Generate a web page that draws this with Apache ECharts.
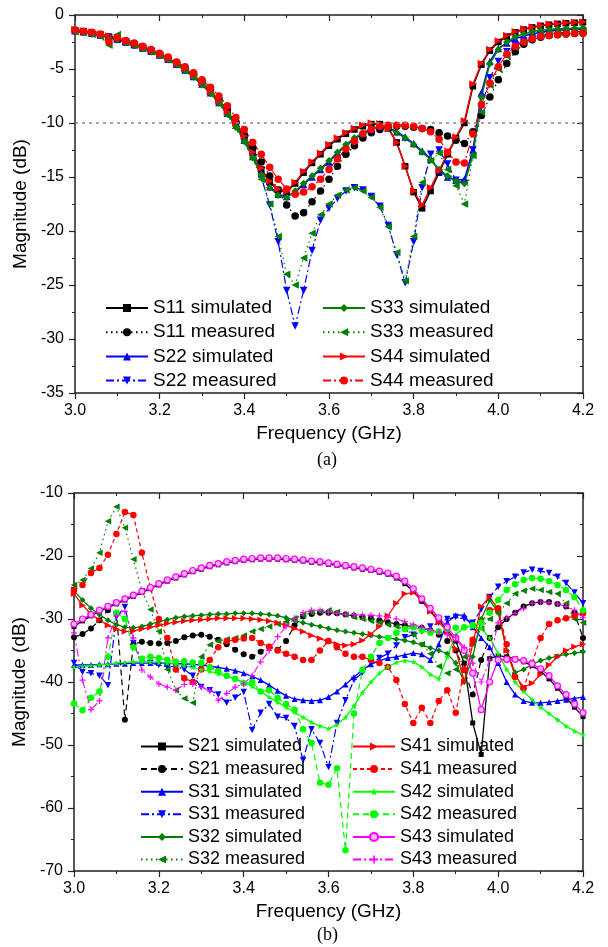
<!DOCTYPE html>
<html><head><meta charset="utf-8">
<script src="https://cdn.jsdelivr.net/npm/echarts@6/dist/echarts.min.js"></script>
<style>html,body{margin:0;padding:0;background:#fff}#c{width:608px;height:947px}</style>
</head><body><div id="c"></div>
<script>
const freq = [3.00,3.02,3.04,3.06,3.08,3.10,3.12,3.14,3.16,3.18,
 3.20,3.22,3.24,3.26,3.28,3.30,3.32,3.34,3.36,3.38,
 3.40,3.42,3.44,3.46,3.48,3.50,3.52,3.54,3.56,3.58,
 3.60,3.62,3.64,3.66,3.68,3.70,3.72,3.74,3.76,3.78,
 3.80,3.82,3.84,3.86,3.88,3.90,3.92,3.94,3.96,3.98,
 4.00,4.02,4.04,4.06,4.08,4.10,4.12,4.14,4.16,4.18,4.20];

const xTicksA = [3.0,3.2,3.4,3.6,3.8,4.0,4.2];
const yTicksA = [-35,-30,-25,-20,-15,-10,-5,0];
const yTicksB = [-70,-60,-50,-40,-30,-20,-10];
const refLevel = -10;

// (a) reflection coefficients
const s11Sim = [-1.4,-1.5,-1.65,-1.8,-2.0,-2.2,-2.45,-2.7,-3.0,-3.3,
 -3.65,-4.05,-4.5,-5.0,-5.6,-6.3,-7.1,-8.0,-9.0,-10.0,
 -11.3,-12.8,-14.3,-15.5,-16.2,-16.4,-15.6,-14.6,-13.7,-12.9,
 -12.1,-11.5,-11.0,-10.6,-10.3,-10.1,-10.1,-10.5,-11.8,-14.0,
 -16.4,-17.9,-16.3,-14.6,-12.9,-11.4,-10.0,-6.6,-4.6,-3.3,
 -2.5,-2.0,-1.6,-1.35,-1.15,-1.0,-0.9,-0.82,-0.76,-0.72,-0.68];
const s11Meas = [-1.45,-1.55,-1.7,-1.85,-2.05,-2.25,-2.5,-2.75,-3.0,-3.3,
 -3.6,-4.0,-4.4,-4.9,-5.45,-6.1,-6.9,-7.8,-8.8,-9.9,
 -11.1,-12.3,-13.6,-14.9,-16.2,-17.6,-18.6,-18.3,-17.3,-16.3,
 -15.2,-14.0,-12.9,-12.1,-11.4,-10.9,-10.6,-10.4,-10.3,-10.3,
 -10.4,-10.5,-10.6,-10.9,-11.2,-11.6,-11.9,-10.8,-9.3,-7.6,
 -6.0,-4.5,-3.4,-2.7,-2.3,-2.05,-1.9,-1.82,-1.76,-1.72,-1.7];
const s22Sim = [-1.45,-1.55,-1.7,-1.85,-2.05,-2.25,-2.5,-2.75,-3.05,-3.35,
 -3.7,-4.1,-4.55,-5.1,-5.7,-6.4,-7.2,-8.1,-9.1,-10.2,
 -11.6,-13.1,-14.7,-15.9,-16.6,-16.8,-16.4,-15.7,-15.0,-14.3,
 -13.6,-12.8,-12.1,-11.5,-11.0,-10.6,-10.3,-10.4,-10.8,-11.3,
 -11.9,-12.6,-13.3,-14.4,-15.0,-15.3,-15.2,-12.5,-7.2,-4.3,
 -3.1,-2.6,-2.2,-1.95,-1.75,-1.6,-1.5,-1.42,-1.36,-1.32,-1.3];
const s22Meas = [-1.5,-1.6,-1.75,-1.9,-2.1,-2.3,-2.55,-2.8,-3.1,-3.4,
 -3.75,-4.15,-4.6,-5.15,-5.75,-6.45,-7.25,-8.15,-9.2,-10.4,
 -11.7,-13.2,-15.0,-17.6,-21.0,-25.5,-28.8,-25.5,-21.8,-19.0,
 -17.9,-17.0,-16.3,-16.0,-16.2,-16.8,-17.7,-19.5,-22.2,-24.8,
 -21.0,-16.0,-12.9,-12.5,-13.8,-15.3,-15.6,-12.5,-8.5,-5.8,
 -4.3,-3.4,-2.8,-2.4,-2.05,-1.85,-1.75,-1.65,-1.6,-1.55,-1.5];
const s33Sim = [-1.5,-1.6,-1.75,-1.9,-2.1,-2.3,-2.55,-2.8,-3.1,-3.4,
 -3.75,-4.15,-4.6,-5.15,-5.75,-6.45,-7.25,-8.15,-9.15,-10.3,
 -11.7,-13.2,-14.8,-16.0,-16.7,-16.9,-16.3,-15.6,-14.9,-14.2,
 -13.5,-12.7,-12.0,-11.4,-10.9,-10.5,-10.3,-10.5,-10.9,-11.4,
 -12.0,-12.7,-13.4,-14.3,-14.9,-15.4,-15.6,-13.0,-7.6,-4.5,
 -3.2,-2.5,-2.0,-1.75,-1.55,-1.42,-1.34,-1.28,-1.24,-1.22,-1.2];
const s33Meas = [-1.55,-1.65,-1.8,-2.0,-2.8,-1.8,-2.5,-2.8,-3.1,-3.4,
 -3.75,-4.15,-4.6,-5.15,-5.75,-6.45,-7.3,-8.2,-9.3,-10.5,
 -11.8,-13.3,-15.2,-17.5,-20.5,-24.0,-25.0,-22.5,-20.2,-18.5,
 -17.5,-16.7,-16.2,-16.0,-16.3,-16.9,-17.8,-19.6,-22.0,-24.6,
 -20.5,-15.5,-13.5,-12.8,-14.3,-15.8,-17.5,-13.0,-9.0,-6.5,
 -5.0,-3.8,-3.0,-2.5,-2.1,-1.9,-1.75,-1.65,-1.6,-1.55,-1.5];
const s44Sim = [-1.35,-1.45,-1.6,-1.75,-1.95,-2.15,-2.4,-2.65,-2.95,-3.25,
 -3.6,-4.0,-4.45,-4.95,-5.55,-6.25,-7.05,-7.95,-8.95,-9.95,
 -11.2,-12.7,-14.2,-15.4,-16.1,-16.3,-15.5,-14.5,-13.6,-12.8,
 -12.0,-11.4,-10.9,-10.5,-10.2,-10.0,-10.1,-10.5,-11.8,-14.0,
 -16.3,-17.6,-16.0,-14.4,-12.8,-11.3,-9.8,-6.4,-4.5,-3.2,
 -2.4,-1.9,-1.55,-1.3,-1.1,-0.95,-0.85,-0.78,-0.72,-0.68,-0.65];
const s44Meas = [-1.4,-1.5,-1.6,-1.75,-2.5,-2.1,-2.35,-2.6,-2.9,-3.2,
 -3.55,-3.9,-4.35,-4.8,-5.35,-6.0,-6.7,-7.5,-8.4,-9.5,
 -10.6,-11.8,-12.9,-14.1,-15.2,-16.1,-16.6,-16.4,-15.9,-15.2,
 -14.3,-13.3,-12.4,-11.7,-11.0,-10.6,-10.3,-10.2,-10.2,-10.2,
 -10.3,-10.5,-10.8,-11.5,-12.7,-13.6,-13.7,-11.0,-8.3,-6.3,
 -4.8,-3.6,-2.9,-2.5,-2.2,-2.0,-1.9,-1.8,-1.75,-1.7,-1.7];

// (b) transmission / isolation
const s21Sim = [-31.2,-30.3,-29.5,-28.8,-28.2,-27.6,-27.0,-26.4,-25.8,-25.2,
 -24.6,-24.0,-23.5,-23.0,-22.5,-22.1,-21.7,-21.4,-21.1,-20.9,
 -20.7,-20.6,-20.5,-20.5,-20.5,-20.6,-20.7,-20.8,-21.0,-21.1,
 -21.3,-21.5,-21.7,-21.9,-22.1,-22.3,-22.6,-22.9,-23.5,-24.4,
 -25.6,-27.2,-28.7,-30.2,-31.7,-33.5,-37.0,-46.5,-51.5,-36.3,
 -35.8,-36.0,-36.3,-36.8,-37.4,-38.3,-39.5,-41.0,-42.5,-44.0,-45.5];
const s21Meas = [-32.9,-32.4,-31.5,-30.2,-28.6,-29.0,-46.0,-34.0,-33.6,-33.8,
 -33.9,-33.8,-33.5,-32.9,-32.6,-32.5,-32.8,-33.3,-34.0,-34.9,
 -35.6,-36.0,-35.2,-34.4,-34.9,-33.5,-31.0,-29.6,-29.2,-29.0,
 -29.0,-29.1,-29.3,-29.5,-29.7,-29.9,-30.2,-30.5,-30.8,-31.0,
 -31.2,-31.4,-31.8,-32.5,-33.5,-35.0,-38.1,-42.0,-36.5,-33.0,
 -31.3,-30.0,-29.0,-28.0,-27.5,-27.3,-27.3,-27.6,-28.0,-29.0,-33.0];
const s31Sim = [-37.3,-37.3,-37.3,-37.2,-37.2,-37.1,-37.1,-37.0,-37.0,-37.0,
 -37.0,-37.0,-37.1,-37.1,-37.2,-37.3,-37.5,-37.7,-37.9,-38.2,
 -38.6,-39.1,-39.7,-40.5,-41.4,-42.2,-42.7,-42.9,-43.0,-42.9,
 -42.4,-41.5,-40.4,-39.2,-38.1,-37.2,-36.6,-36.2,-36.0,-35.7,
 -35.4,-35.6,-36.5,-34.0,-30.5,-29.4,-29.4,-31.3,-33.0,-34.5,
 -37.0,-40.0,-42.0,-43.0,-43.3,-43.3,-43.2,-43.0,-42.8,-42.6,-42.4];
const s31Meas = [-37.0,-38.4,-38.6,-39.0,-40.5,-29.7,-28.1,-33.8,-36.5,-37.0,
 -37.3,-37.6,-37.5,-38.0,-39.0,-40.8,-41.3,-42.0,-43.3,-42.5,
 -41.6,-47.6,-44.9,-43.5,-45.5,-45.7,-47.0,-52.4,-47.5,-49.7,
 -53.5,-46.5,-42.9,-39.7,-38.5,-37.0,-36.2,-35.5,-34.2,-32.9,
 -32.5,-32.0,-31.2,-30.6,-30.0,-29.7,-30.0,-30.6,-28.5,-26.5,
 -24.9,-24.0,-23.3,-22.6,-22.2,-22.4,-22.7,-23.3,-24.3,-25.8,-27.5];
const s32Sim = [-25.5,-27.0,-28.3,-29.3,-30.2,-30.9,-31.3,-31.4,-31.2,-30.8,
 -30.4,-30.1,-29.8,-29.6,-29.5,-29.4,-29.3,-29.2,-29.2,-29.1,
 -29.1,-29.1,-29.2,-29.3,-29.5,-29.8,-30.2,-30.6,-30.9,-31.2,
 -31.5,-31.8,-32.0,-32.2,-32.4,-32.6,-32.8,-33.0,-33.2,-33.4,
 -33.7,-34.1,-34.6,-35.0,-35.5,-37.0,-40.0,-36.0,-30.0,-27.0,
 -29.0,-35.0,-38.5,-38.0,-37.2,-36.6,-36.2,-35.9,-35.6,-35.4,-35.2];
const s32Meas = [-24.6,-23.8,-22.0,-19.5,-14.5,-12.2,-15.5,-20.5,-25.5,-28.5,
 -32.0,-38.0,-41.3,-42.6,-43.3,-36.0,-34.1,-33.5,-33.2,-33.0,
 -32.6,-32.0,-31.6,-31.2,-30.8,-30.4,-29.9,-29.4,-29.0,-28.8,
 -28.6,-28.9,-29.3,-29.7,-30.0,-30.3,-30.6,-30.9,-31.2,-31.6,
 -32.5,-34.0,-35.5,-37.5,-38.6,-38.0,-36.0,-34.0,-31.5,-30.0,
 -29.0,-27.5,-26.0,-25.5,-25.2,-25.4,-25.7,-26.0,-27.5,-30.0,-30.6];
const s41Sim = [-26.0,-27.8,-29.2,-30.2,-31.0,-31.6,-32.0,-31.9,-31.6,-31.3,
 -31.0,-30.7,-30.5,-30.3,-30.2,-30.1,-30.0,-29.9,-29.9,-29.9,
 -29.9,-30.0,-30.1,-30.3,-30.6,-31.0,-31.5,-32.0,-32.6,-33.1,
 -33.6,-34.0,-34.2,-34.0,-33.4,-32.4,-31.2,-29.5,-27.5,-26.0,
 -25.8,-27.0,-28.8,-30.5,-32.0,-34.8,-40.0,-34.0,-28.0,-26.5,
 -28.5,-35.0,-39.0,-40.8,-40.2,-38.8,-37.3,-36.0,-35.0,-34.4,-34.0];
const s41Meas = [-25.4,-24.6,-22.7,-21.9,-19.8,-16.5,-13.0,-13.5,-19.5,-25.0,
 -30.0,-33.0,-38.0,-39.4,-40.0,-38.0,-36.5,-34.5,-33.5,-33.3,
 -33.1,-33.0,-33.8,-34.4,-35.0,-35.5,-36.0,-36.5,-36.5,-35.0,
 -33.5,-34.5,-35.5,-36.0,-36.0,-36.5,-37.0,-37.6,-39.7,-43.5,
 -46.5,-44.1,-46.5,-43.0,-41.3,-44.9,-38.0,-33.3,-30.5,-28.6,
 -28.3,-34.0,-39.2,-41.0,-37.0,-33.0,-30.8,-30.2,-29.9,-29.5,-29.1];
const s42Sim = [-37.6,-37.5,-37.4,-37.3,-37.2,-37.0,-36.9,-36.8,-36.8,-36.8,
 -36.9,-37.0,-37.2,-37.4,-37.7,-38.0,-38.3,-38.7,-39.1,-39.5,
 -40.0,-40.7,-41.5,-42.4,-43.2,-44.0,-44.8,-45.6,-46.4,-47.0,
 -47.4,-46.8,-45.6,-43.8,-41.7,-40.0,-38.6,-37.6,-36.9,-36.6,
 -36.8,-37.6,-38.8,-39.5,-36.0,-32.5,-31.3,-31.2,-31.5,-33.0,
 -35.5,-38.0,-40.0,-41.5,-42.8,-44.0,-45.0,-46.0,-47.0,-47.8,-48.4];
const s42Meas = [-43.4,-44.5,-42.5,-41.5,-36.0,-29.0,-30.0,-34.5,-36.3,-36.0,
 -36.2,-36.5,-36.8,-36.7,-36.9,-37.0,-37.6,-38.3,-39.0,-39.5,
 -40.2,-40.0,-41.5,-41.3,-42.5,-43.5,-44.4,-47.5,-49.7,-56.0,
 -56.3,-53.7,-66.7,-45.0,-38.1,-36.0,-33.8,-33.0,-32.2,-31.6,
 -31.3,-31.8,-32.2,-32.0,-31.6,-31.4,-31.3,-31.0,-30.6,-29.0,
 -27.0,-25.4,-24.5,-23.8,-23.5,-23.6,-24.0,-24.6,-25.4,-26.5,-28.6];
const s43Sim = [-30.8,-30.0,-29.3,-28.6,-28.0,-27.4,-26.8,-26.2,-25.6,-25.0,
 -24.4,-23.8,-23.3,-22.8,-22.3,-21.9,-21.5,-21.2,-20.9,-20.7,
 -20.5,-20.4,-20.3,-20.3,-20.3,-20.4,-20.5,-20.6,-20.8,-20.9,
 -21.1,-21.3,-21.5,-21.7,-21.9,-22.1,-22.4,-22.7,-23.2,-24.0,
 -25.2,-26.8,-28.3,-29.8,-31.3,-33.0,-35.0,-38.6,-44.4,-40.0,
 -36.5,-36.4,-36.4,-36.6,-37.1,-37.9,-39.0,-40.6,-42.0,-43.5,-44.9];
const s43Meas = [-32.2,-39.7,-44.4,-43.0,-33.0,-29.5,-28.8,-33.0,-38.1,-39.2,
 -40.3,-40.8,-41.3,-40.4,-40.3,-40.8,-41.4,-42.9,-41.8,-40.8,
 -40.3,-39.0,-36.8,-35.0,-32.8,-31.2,-29.9,-29.0,-28.6,-28.6,
 -28.9,-29.1,-29.2,-29.3,-29.4,-29.4,-29.5,-29.7,-30.0,-30.4,
 -30.9,-31.3,-31.7,-32.1,-32.5,-32.9,-34.5,-37.0,-40.0,-36.5,
 -30.6,-29.8,-29.1,-28.3,-27.5,-27.3,-27.4,-27.6,-28.0,-28.6,-29.8];

const STAR = 'path://M5,0L6.2,3.6L10,3.6L6.9,5.9L8.1,9.5L5,7.3L1.9,9.5L3.1,5.9L0,3.6L3.8,3.6Z';
const PLUS = 'path://M4,0H6V4H10V6H6V10H4V6H0V4H4Z';
const DOT = [1.5,3.5], DASHDOT = [8,3,2,3], DASH = [6,4], SHORTDASH = [4,3];

function mk(name, arr, color, symbol, rot, ltype, g, size, width, fill) {
  return {
    name: name, type: 'line', xAxisIndex: g ? 2 : 0, yAxisIndex: g ? 2 : 0,
    data: freq.map((f, i) => [f, arr[i]]),
    symbol: symbol, symbolRotate: rot, symbolSize: size, showSymbol: true,
    lineStyle: { color: color, width: width, type: ltype },
    itemStyle: fill ? { color: fill, borderColor: color, borderWidth: 1.2 } : { color: color },
    animation: false, z: 2
  };
}

const axisCol = '#222';
function xAx(grid, pos, labels) {
  return {
    type: 'value', gridIndex: grid, position: pos, min: 3.0, max: 4.2, interval: 0.2,
    axisLine: { show: true, onZero: false, lineStyle: { color: axisCol, width: 1.5 } },
    axisTick: { show: true, inside: !labels, length: 6, lineStyle: { color: axisCol, width: 1.2 } },
    minorTick: { show: true, splitNumber: 2, length: 3, lineStyle: { color: axisCol, width: 1 } },
    splitLine: { show: false }, minorSplitLine: { show: false },
    axisLabel: { show: labels, fontSize: 16, color: '#000', margin: 10, fontFamily: 'Liberation Sans, Arial', formatter: v => v.toFixed(1) },
    name: labels ? 'Frequency (GHz)' : '', nameLocation: 'middle', nameGap: 31,
    nameTextStyle: { fontSize: 19, color: '#000', fontFamily: 'Liberation Sans, Arial' }
  };
}
function yAx(grid, pos, labels, min, max, interval) {
  return {
    type: 'value', gridIndex: grid, position: pos, min: min, max: max, interval: interval,
    axisLine: { show: true, onZero: false, lineStyle: { color: axisCol, width: 1.5 } },
    axisTick: { show: true, inside: !labels, length: 6, lineStyle: { color: axisCol, width: 1.2 } },
    minorTick: { show: true, splitNumber: 2, length: 3, lineStyle: { color: axisCol, width: 1 } },
    splitLine: { show: false }, minorSplitLine: { show: false },
    axisLabel: { show: labels, fontSize: 16, color: '#000', margin: 11, fontFamily: 'Liberation Sans, Arial' },
    name: labels ? 'Magnitude (dB)' : '', nameLocation: 'middle', nameGap: 44,
    nameTextStyle: { fontSize: 19, color: '#000', fontFamily: 'Liberation Sans, Arial' }
  };
}

const series = [
  mk('S11 simulated', s11Sim, '#000000', 'rect', 0, 'solid', 0, 6.5, 1.5),
  mk('S11 measured', s11Meas, '#000000', 'circle', 0, DOT, 0, 7.5, 1.2),
  mk('S22 simulated', s22Sim, '#0000ff', 'triangle', 0, 'solid', 0, 7.5, 1.5),
  mk('S22 measured', s22Meas, '#0000ff', 'triangle', 180, DASHDOT, 0, 7.5, 1.2),
  mk('S33 simulated', s33Sim, '#008000', 'diamond', 0, 'solid', 0, 7.5, 1.5),
  mk('S33 measured', s33Meas, '#008000', 'triangle', 90, DOT, 0, 7.5, 1.2),
  mk('S44 simulated', s44Sim, '#ff0000', 'triangle', -90, 'solid', 0, 7.5, 1.5),
  mk('S44 measured', s44Meas, '#ff0000', 'circle', 0, DASHDOT, 0, 7.5, 1.2),

  mk('S21 simulated', s21Sim, '#000000', 'rect', 0, 'solid', 1, 5, 1.3),
  mk('S21 measured', s21Meas, '#000000', 'circle', 0, DASH, 1, 6, 1.2),
  mk('S31 simulated', s31Sim, '#0000ff', 'triangle', 0, 'solid', 1, 6, 1.3),
  mk('S31 measured', s31Meas, '#0000ff', 'triangle', 180, DASHDOT, 1, 6.5, 1.2),
  mk('S32 simulated', s32Sim, '#008000', 'diamond', 0, 'solid', 1, 6, 1.3),
  mk('S32 measured', s32Meas, '#008000', 'triangle', 90, DOT, 1, 6.5, 1.2),
  mk('S41 simulated', s41Sim, '#ff0000', 'triangle', -90, 'solid', 1, 6.5, 1.3),
  mk('S41 measured', s41Meas, '#ff0000', 'circle', 0, SHORTDASH, 1, 6.5, 1.2),
  mk('S42 simulated', s42Sim, '#00ff00', STAR, 0, 'solid', 1, 6, 1.3),
  mk('S42 measured', s42Meas, '#00ff00', 'circle', 0, DASH, 1, 6.5, 1.2),
  mk('S43 simulated', s43Sim, '#ff00ff', 'circle', 0, 'solid', 1, 6, 1.3, '#ffb3ff'),
  mk('S43 measured', s43Meas, '#ff00ff', PLUS, 0, DASHDOT, 1, 6, 1.1)
];
series[0].markLine = {
  silent: true, symbol: 'none', animation: false,
  data: [{ yAxis: refLevel }], label: { show: false },
  lineStyle: { color: '#888888', type: [3, 4], width: 1.5 }
};

function leg(names, left, top, fs, gap) {
  return {
    data: names, orient: 'vertical', left: left, top: top,
    itemWidth: 42, itemHeight: 10, itemGap: gap, padding: 0,
    textStyle: { fontSize: fs, lineHeight: fs + 1, color: '#000', fontFamily: 'Liberation Sans, Arial' },
    selectedMode: false
  };
}

const option = {
  backgroundColor: '#ffffff',
  animation: false,
  grid: [
    { left: 75, top: 15, width: 508, height: 378 },
    { left: 74, top: 493, width: 509, height: 378 }
  ],
  xAxis: [xAx(0, 'bottom', true), xAx(0, 'top', false), xAx(1, 'bottom', true), xAx(1, 'top', false)],
  yAxis: [yAx(0, 'left', true, -35, 0, 5), yAx(0, 'right', false, -35, 0, 5),
          yAx(1, 'left', true, -70, -10, 10), yAx(1, 'right', false, -70, -10, 10)],
  legend: [
    leg(['S11 simulated', 'S11 measured', 'S22 simulated', 'S22 measured'], 105, 298, 19, 4.2),
    leg(['S33 simulated', 'S33 measured', 'S44 simulated', 'S44 measured'], 322, 298, 19, 4.2),
    leg(['S21 simulated', 'S21 measured', 'S31 simulated', 'S31 measured', 'S32 simulated', 'S32 measured'], 140, 737, 18, 3.6),
    leg(['S41 simulated', 'S41 measured', 'S42 simulated', 'S42 measured', 'S43 simulated', 'S43 measured'], 352, 737, 18, 3.6)
  ],
  graphic: [
    { type: 'text', left: 317, top: 451, style: { text: '(a)', fontSize: 18, fill: '#000', fontFamily: 'Liberation Serif, Times New Roman' } },
    { type: 'text', left: 317, top: 926, style: { text: '(b)', fontSize: 18, fill: '#000', fontFamily: 'Liberation Serif, Times New Roman' } }
  ],
  series: series
};

const chart = echarts.init(document.getElementById('c'), null, { renderer: 'canvas' });
chart.setOption(option);
</script>
</body></html>
